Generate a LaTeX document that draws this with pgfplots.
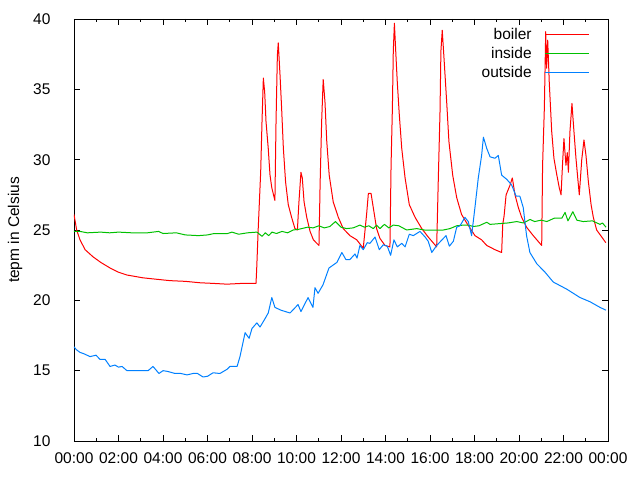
\documentclass[border=0pt]{standalone}
\usepackage{pgfplots}
\pgfplotsset{compat=1.18}
\usepackage{fontspec}
\setmainfont{Liberation Sans}
\definecolor{gpred}{RGB}{255,0,0}
\definecolor{gpgreen}{RGB}{0,192,0}
\definecolor{gpblue}{RGB}{0,128,255}
\begin{document}
\begin{tikzpicture}
\begin{axis}[
  at={(0pt,0pt)}, anchor=south west,
  scale only axis, width=534pt, height=422pt,
  xmin=0, xmax=24, ymin=10, ymax=40,
  xtick={0,2,...,24},
  xticklabels={00:00,02:00,04:00,06:00,08:00,10:00,12:00,14:00,16:00,18:00,20:00,22:00,00:00},
  minor x tick num=1,
  ytick={10,15,...,40},
  major tick length=6pt, minor tick length=3pt,
  tick style={black, line width=0.8pt},
  axis line style={line width=0.8pt},
  /pgf/number format/assume math mode=true,
  tick label style={font=\fontsize{15.5}{18}\selectfont},
  yticklabel style={xshift=-20pt},
  xticklabel style={yshift=-8pt},
  legend style={draw=none, fill=none, at={(0.966,0.983)}, anchor=north east,
    inner sep=0pt, font=\fontsize{15.5}{18}\selectfont, row sep=2pt, column sep=11pt},
  legend cell align=right,
  legend plot pos=right,
  legend image code/.code={\draw[#1] (0pt,0pt) -- (44pt,0pt);},
  every axis plot/.append style={line width=1pt, line join=round},
]
\addplot[gpred] coordinates {
(0,26.1) (0.12,25.0) (0.27,24.3) (0.5,23.6) (0.85,23.1) (1.2,22.7) (1.62,22.3) (2.0,22.0) (2.38,21.8) (3.10,21.6) (3.7,21.5) (4.31,21.4) (5.0,21.35) (5.66,21.25) (6.3,21.2) (6.88,21.15) (7.5,21.2) (8.18,21.2) (8.21,22.2) (8.28,25.1) (8.39,29.1) (8.45,32.7) (8.51,35.8) (8.57,34.8) (8.63,32.7) (8.73,30.8) (8.81,28.9) (8.89,28.0) (9.03,27.1) (9.08,32.7) (9.14,37.4) (9.18,38.3) (9.26,36.0) (9.33,33.7) (9.41,30.8) (9.51,28.4) (9.63,26.8) (9.78,25.9) (9.93,25.1) (10.04,25.0) (10.11,27.0) (10.20,29.1) (10.26,28.7) (10.34,27.0) (10.46,25.9) (10.61,24.9) (10.76,24.3) (11.01,23.9) (11.06,28.2) (11.13,32.7) (11.20,35.7) (11.28,34.1) (11.36,31.3) (11.47,28.9) (11.65,27.0) (11.88,25.9) (12.10,25.1) (12.40,24.6) (12.71,24.3) (13.00,23.7) (13.15,26.1) (13.23,27.6) (13.35,27.6) (13.45,26.6) (13.60,25.1) (13.75,24.4) (13.98,23.9) (14.20,23.8) (14.25,29.6) (14.31,33.7) (14.35,37.7) (14.40,39.7) (14.46,37.7) (14.53,35.5) (14.62,33.2) (14.73,30.8) (14.88,28.7) (15.07,26.8) (15.33,25.9) (15.63,25.1) (15.92,24.5) (16.30,23.8) (16.37,28.4) (16.45,33.4) (16.49,37.7) (16.55,39.2) (16.63,37.2) (16.75,34.1) (16.85,31.3) (17.02,28.9) (17.20,27.3) (17.42,26.1) (17.65,25.5) (18.02,24.6) (18.32,24.3) (18.55,23.9) (18.92,23.6) (19.22,23.4) (19.27,25.4) (19.33,26.0) (19.42,27.5) (19.60,28.2) (19.70,28.7) (19.82,27.5) (19.97,26.6) (20.12,25.9) (20.34,25.2) (20.64,24.6) (21.02,23.9) (21.06,29.6) (21.14,33.7) (21.20,39.1) (21.24,36.5) (21.29,38.5) (21.36,35.5) (21.47,32.0) (21.57,30.1) (21.69,29.0) (21.81,28.0) (21.89,27.5) (21.96,29.8) (22.02,31.5) (22.11,29.6) (22.17,30.5) (22.22,29.1) (22.29,32.0) (22.38,34.0) (22.47,32.0) (22.56,30.1) (22.64,28.7) (22.71,27.5) (22.82,30.0) (22.92,31.4) (23.01,30.3) (23.12,28.4) (23.24,26.8) (23.34,25.9) (23.49,25.0) (23.72,24.5) (23.90,24.1)
};
\addlegendentry{boiler}
\addplot[gpgreen] coordinates {
(0,24.9) (0.27,24.9) (0.6,24.8) (1.2,24.85) (1.6,24.8) (2.0,24.85) (2.6,24.8) (3.3,24.8) (3.8,24.9) (4.0,24.75) (4.6,24.8) (5.0,24.65) (5.6,24.6) (6.0,24.65) (6.3,24.75) (6.9,24.75) (7.1,24.85) (7.4,24.7) (7.8,24.8) (8.22,24.85) (8.45,24.55) (8.6,24.8) (8.75,24.6) (8.9,24.85) (9.1,24.75) (9.35,24.9) (9.6,24.8) (9.85,25.0) (10.1,25.05) (10.5,25.2) (10.75,25.15) (11.0,25.3) (11.25,25.15) (11.5,25.25) (11.75,25.6) (12.0,25.2) (12.25,25.1) (12.55,25.15) (12.85,25.35) (13.05,25.2) (13.25,25.3) (13.45,25.1) (13.6,25.35) (13.75,25.1) (13.95,25.4) (14.15,25.15) (14.35,25.35) (14.6,25.3) (14.95,25.0) (15.4,25.1) (15.75,25.0) (16.2,25.0) (16.6,25.0) (16.9,25.1) (17.2,25.3) (17.5,25.35) (17.7,25.35) (17.95,25.25) (18.2,25.3) (18.55,25.55) (18.7,25.4) (19.1,25.45) (19.5,25.5) (19.9,25.6) (20.2,25.5) (20.5,25.75) (20.7,25.6) (21.0,25.7) (21.25,25.6) (21.6,25.85) (21.93,25.85) (22.07,26.25) (22.2,25.65) (22.42,26.3) (22.6,25.7) (22.88,25.6) (23.3,25.65) (23.64,25.4) (23.75,25.5) (23.91,25.2)
};
\addlegendentry{inside}
\addplot[gpblue] coordinates {
(0,16.7) (0.1,16.5) (0.27,16.3) (0.45,16.2) (0.72,16.0) (0.99,16.1) (1.17,15.8) (1.4,15.8) (1.62,15.3) (1.84,15.4) (2.0,15.25) (2.16,15.3) (2.38,15.0) (2.8,15.0) (3.33,15.0) (3.55,15.3) (3.82,14.8) (4.0,15.0) (4.2,14.95) (4.54,14.8) (4.8,14.8) (5.08,14.7) (5.35,14.8) (5.55,14.8) (5.80,14.55) (6.0,14.6) (6.25,14.85) (6.56,14.8) (6.88,15.1) (7.01,15.3) (7.33,15.3) (7.46,16.0) (7.69,17.7) (7.87,17.3) (8.00,18.0) (8.22,18.4) (8.36,18.1) (8.55,18.6) (8.73,19.1) (8.89,20.2) (9.03,19.5) (9.30,19.3) (9.71,19.1) (10.07,19.7) (10.20,19.2) (10.52,20.2) (10.74,19.5) (10.83,20.9) (10.97,20.5) (11.19,21.1) (11.46,22.3) (11.82,22.7) (12.04,23.4) (12.22,22.9) (12.40,22.9) (12.63,23.3) (12.72,23.0) (12.85,23.9) (13.0,23.6) (13.18,24.1) (13.30,24.05) (13.53,24.5) (13.72,23.6) (13.90,23.95) (14.08,23.85) (14.23,23.2) (14.38,24.3) (14.53,23.8) (14.73,24.05) (14.88,23.8) (15.07,24.7) (15.25,24.6) (15.55,24.9) (15.78,24.5) (15.92,24.2) (16.08,23.4) (16.30,23.9) (16.60,24.4) (16.72,24.6) (16.87,23.85) (17.05,24.2) (17.20,25.2) (17.35,25.3) (17.57,25.9) (17.72,25.6) (17.87,24.6) (18.02,26.6) (18.17,28.7) (18.32,30.3) (18.40,31.6) (18.55,30.8) (18.70,30.2) (18.92,30.1) (19.07,30.3) (19.22,28.9) (19.45,28.6) (19.67,28.2) (19.87,27.4) (20.04,27.4) (20.19,26.6) (20.34,24.6) (20.49,23.4) (20.80,22.6) (21.17,22.0) (21.54,21.3) (22.14,20.8) (22.74,20.2) (23.19,19.9) (23.64,19.5) (23.91,19.3)
};
\addlegendentry{outside}
\end{axis}
\node[rotate=90, font=\fontsize{15.5}{18}\selectfont] at (-59pt,211pt) {tepm in Celsius};
\path[use as bounding box] (-74pt,-39pt) rectangle (566pt,441pt);
\end{tikzpicture}
\end{document}
